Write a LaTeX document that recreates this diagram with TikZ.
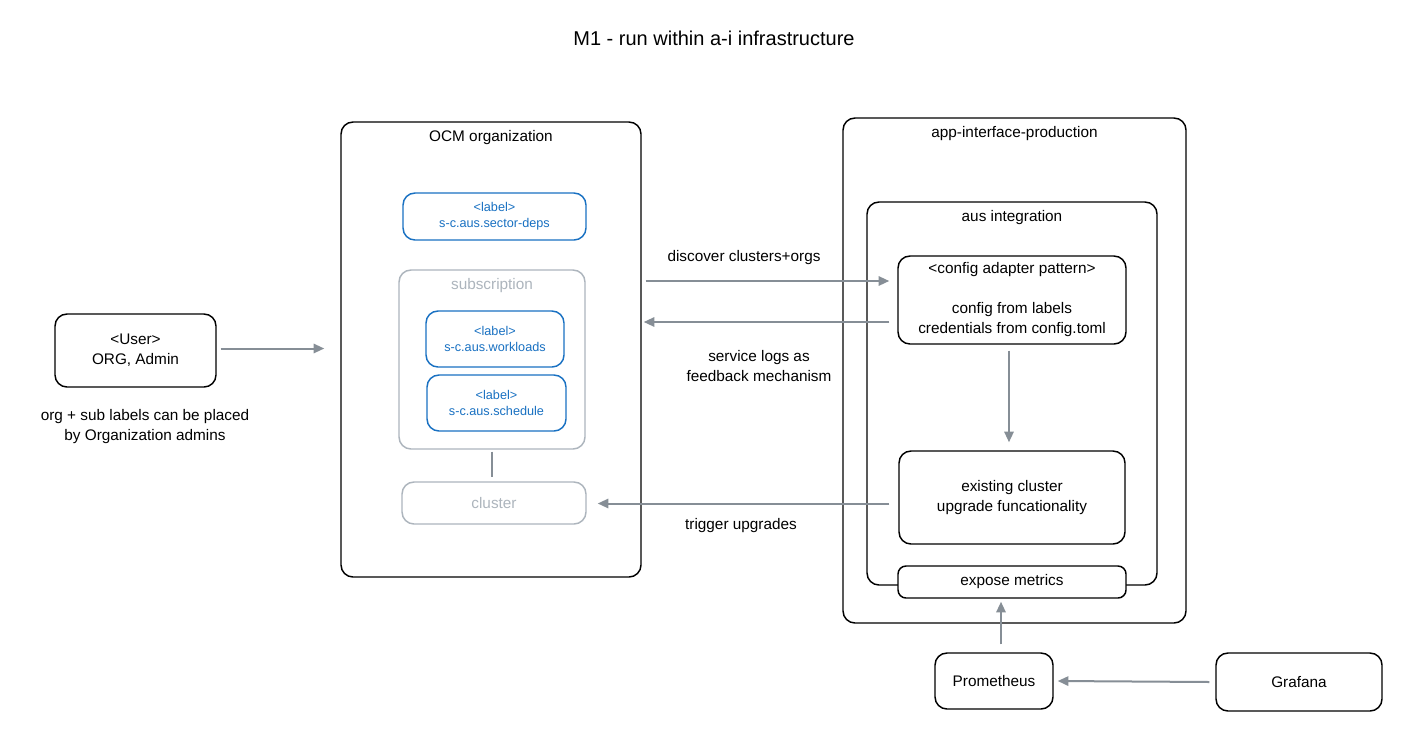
\documentclass[tikz,border=0pt]{standalone}
\usepackage{fontspec}
\setmainfont{Liberation Sans}
\usetikzlibrary{arrows.meta,positioning,fit,calc}

\definecolor{linegray}{HTML}{868E96}
\definecolor{boxgray}{HTML}{ADB5BD}
\definecolor{labelblue}{HTML}{1971C2}

\tikzset{
  box/.style={draw, rounded corners=9pt, line width=1.1pt, inner sep=0pt},
  graybox/.style={box, draw=boxgray},
  labelbox/.style={box, draw=labelblue},
  lbl/.style={text=labelblue, align=center, font=\fontsize{9.5}{12}\selectfont},
  txt/.style={align=center, font=\fontsize{11.5}{15}\selectfont},
  flow/.style={draw=linegray, line width=1.5pt, -{Triangle[length=8pt,width=7pt]}},
}

\begin{document}
\begin{tikzpicture}[x=0.75pt, y=-0.75pt]
\fill[white] (0,0) rectangle (1404,747);
\useasboundingbox (0,0) rectangle (1404,747);

\node[font=\fontsize{15}{18}\selectfont] (title) at (714,38) {M1 - run within a-i infrastructure};

% OCM side
\node[box, fit={(341,122) (641,577)}] (ocm) {};
\node[txt, below=3pt of ocm.north] (ocm-title) {OCM organization};
\node[labelbox, fit={(403,193) (586,240)}] (deps) {};
\node[lbl] (deps-text) at (deps) {<label>\\s-c.aus.sector-deps};
\node[graybox, fit={(399,270) (585,449)}] (sub) {};
\node[txt, text=boxgray, below=3pt of sub.north] (sub-title) {subscription};
\node[labelbox, fit={(426,311) (564,367)}] (workloads) {};
\node[lbl] (workloads-text) at (workloads) {<label>\\s-c.aus.workloads};
\node[labelbox, fit={(427,375) (566,431)}] (schedule) {};
\node[lbl] (schedule-text) at (schedule) {<label>\\s-c.aus.schedule};
\node[graybox, fit={(402,482) (586,524)}] (cluster) {};
\node[txt, text=boxgray] (cluster-text) at (cluster) {cluster};
\draw[draw=linegray, line width=1.3pt] ($(sub.south)+(0,2)$) -- ($(sub.south |- cluster.north)+(0,-4)$);

% user
\node[box, fit={(55,314) (216,387)}] (user) {};
\node[txt] (user-text) at (user) {<User>\\ORG, Admin};
\node[txt] (note) at (145,427) {org + sub labels can be placed\\by Organization admins};
\draw[flow] ($(user.east)+(4,-2)$) -- ($(ocm.west |- user.east)+(-16,-2)$);

% app-interface side
\node[box, fit={(843,118) (1186,623)}] (aip) {};
\node[txt, below=3pt of aip.north] (aip-title) {app-interface-production};
\node[box, fit={(867,202) (1157,585)}] (aus) {};
\node[txt, below=3pt of aus.north] (aus-title) {aus integration};
\node[box, fit={(898,256) (1126,344)}] (cfg) {};
\node[txt] (cfg-text) at (cfg) {<config adapter pattern>\\\mbox{}\\config from labels\\credentials from config.toml};
\node[box, fit={(899,451) (1125,544)}] (exist) {};
\node[txt] (exist-text) at (exist) {existing cluster\\upgrade funcationality};
\node[box, rounded corners=6pt, fill=white, fit={(898,566) (1126,598)}] (metrics) {};
\node[txt] (metrics-text) at (metrics) {expose metrics};

% monitoring
\node[box, fit={(935,653) (1053,709)}] (prom) {};
\node[txt] (prom-text) at (prom) {Prometheus};
\node[box, fit={(1216,653) (1382,711)}] (graf) {};
\node[txt] (graf-text) at (graf) {Grafana};

% Arrows
\coordinate (disc-end) at ($(cfg.west)+(-8,-19)$);
\draw[flow] ($(ocm.east |- disc-end)+(4,0)$) -- (disc-end);
\node[txt] (disc-lbl) at (744,258) {discover clusters+orgs};

\coordinate (logs-start) at ($(cfg.west)+(-8,22)$);
\draw[flow] (logs-start) -- ($(ocm.east |- logs-start)+(2,0)$);
\node[txt] (logs-lbl) at (759,366) {service logs as\\feedback mechanism};

\coordinate (trig-start) at ($(exist.west)+(-9,6)$);
\draw[flow] (trig-start) -- ($(cluster.east |- trig-start)+(11,0)$);
\node[txt] (trig-lbl) at (741,526) {trigger upgrades};

\draw[flow] ($(cfg.south)+(-3,6)$) -- ($(exist.north)+(-3,-8)$);

\coordinate (prom-top) at ($(prom.north)+(7,-8)$);
\draw[flow] (prom-top) -- ($(prom-top |- metrics.south)+(0,3)$);
\draw[flow] ($(graf.west)+(-6,0)$) -- ($(prom.east)+(4,0)$);
\end{tikzpicture}
\end{document}
